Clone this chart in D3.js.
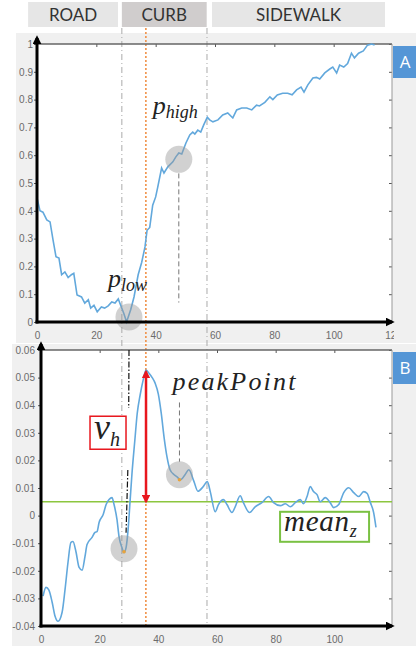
<!DOCTYPE html>
<html>
<head>
<meta charset="utf-8">
<script src="https://cdn.jsdelivr.net/npm/d3@7/dist/d3.min.js"></script>
<style>
  body { margin: 0; background: #fff; }
  svg { display: block; }
  .tick text { font-family: "Liberation Sans", Arial, sans-serif; font-size: 10px; fill: #6b6b6b; }
  .tick line { stroke: #555; }
  .math { font-family: "Liberation Serif", "DejaVu Serif", serif; font-style: italic; fill: #222; }
</style>
</head>
<body>
<svg id="chart" width="416" height="648"></svg>
<script>
// panel A: [distance, normalised height]
const profileA = [
  [0, 0.446], [1, 0.40], [2, 0.395], [3.3, 0.367], [4.4, 0.36], [5.4, 0.295], [6.4, 0.235],
  [7.4, 0.23], [8.3, 0.17], [9.4, 0.18], [10.5, 0.16], [11.6, 0.17], [12.4, 0.175], [13.5, 0.097],
  [15, 0.09], [16.1, 0.068], [17.3, 0.08], [18.1, 0.05], [19.2, 0.06], [20.3, 0.037], [21.7, 0.054],
  [22.8, 0.05], [24, 0.058], [25.2, 0.072], [26.3, 0.068], [27.4, 0.083], [28.2, 0.06], [29.3, 0.03],
  [30.2, 0.0], [31.6, 0.045], [32.7, 0.09], [34.1, 0.17], [35.3, 0.215], [36.4, 0.27], [37.1, 0.33],
  [38, 0.34], [39, 0.42], [40, 0.45], [40.7, 0.485], [42, 0.554], [42.8, 0.536], [44.1, 0.558],
  [45.8, 0.576], [46.8, 0.594], [47.8, 0.608], [48.8, 0.604], [50.2, 0.644], [51.5, 0.673],
  [52.5, 0.683], [53.2, 0.676], [54.2, 0.69], [55.2, 0.683], [56.2, 0.709], [57.4, 0.737],
  [58.2, 0.727], [59.3, 0.72], [61, 0.727], [62.6, 0.745], [64.3, 0.752], [66, 0.734], [67.3, 0.763],
  [69, 0.77], [70.7, 0.77], [72.4, 0.763], [74, 0.78], [75, 0.777], [76.8, 0.79], [78.5, 0.81],
  [79.5, 0.80], [81, 0.817], [82.8, 0.823], [84.5, 0.823], [86, 0.817], [87.5, 0.835], [89, 0.845],
  [90, 0.827], [91.3, 0.853], [93, 0.878], [94.2, 0.88], [95.3, 0.874], [97, 0.896], [98.7, 0.91],
  [99.7, 0.917], [101, 0.896], [102, 0.924], [103.4, 0.917], [104.7, 0.93], [106, 0.967],
  [107, 0.95], [108.4, 0.967], [110, 0.975], [111.4, 0.996], [112.8, 1.0], [113.8, 0.996]
];

// panel B: [distance, z]
const profileB = [
  [0.7, -0.0292], [1.7, -0.026], [2.7, -0.027], [3.8, -0.0314], [4.8, -0.0365], [5.8, -0.0383],
  [7.2, -0.035], [8.2, -0.0267], [9.2, -0.017], [10.2, -0.0097], [10.9, -0.0094], [11.9, -0.013],
  [13, -0.0188], [14, -0.0198], [15, -0.0148], [15.7, -0.0105], [17.4, -0.0079], [18.4, -0.0061],
  [19.1, -0.0058], [19.8, -0.0025], [21.2, 0.0004], [22.2, 0.004], [23.2, 0.0058], [24.2, 0.0065],
  [24.9, 0.004], [25.9, -0.0014], [26.6, -0.0076], [27.6, -0.0116], [28.3, -0.0134], [29, -0.0116],
  [29.7, -0.005], [30.4, 0.0058], [31, 0.015], [32, 0.0274], [32.8, 0.037], [33.8, 0.0437],
  [34.8, 0.049], [35.8, 0.0527], [36.9, 0.0515], [37.9, 0.050], [38.9, 0.048], [40, 0.044],
  [41, 0.037], [42, 0.028], [43, 0.021], [44, 0.0166], [45.4, 0.0148], [46.4, 0.014], [47.6, 0.013],
  [49.1, 0.0148], [50.4, 0.0166], [52.1, 0.0125], [53.5, 0.0088], [55.3, 0.0105], [56.7, 0.0123],
  [57.7, 0.0087], [59.4, 0.0014], [60.5, 0.004], [62.2, 0.0058], [63.4, 0.004], [65.1, 0.0011],
  [66.2, 0.0032], [67.9, 0.0072], [69, 0.0047], [71.1, 0.0011], [73, 0.0032], [75.3, 0.0047],
  [77.6, 0.0069], [79.3, 0.0047], [81.6, 0.0036], [83.3, 0.0043], [85, 0.0032], [86.7, 0.0047],
  [88.4, 0.0058], [89.5, 0.0043], [90.7, 0.0069], [91.8, 0.0105], [92.9, 0.0087], [94.1, 0.0076],
  [95.2, 0.005], [96.9, 0.0065], [98.6, 0.0047], [99.8, 0.0029], [101.5, 0.004], [103.2, 0.0083],
  [104.9, 0.0101], [106.6, 0.0083], [108.3, 0.0069], [110, 0.0087], [111.2, 0.008], [112.3, 0.0047],
  [113.4, 0.0011], [114.2, -0.0043]
];

const zones = [
  { name: "ROAD", from: -3, to: 27.3, shade: "#e6e6e6" },
  { name: "CURB", from: 28.6, to: 57.2, shade: "#d0cdcd" },
  { name: "SIDEWALK", from: 59, to: 117.3, shade: "#e6e6e6" }
];
const zoneEdges = [28.6, 57.3];
const curbLine = 36.7;

const ticksXA = [0, 20, 40, 60, 80, 100, 120];
const ticksXB = [0, 20, 40, 60, 80, 100];
const ticksYA = [0, 0.1, 0.2, 0.3, 0.4, 0.5, 0.6, 0.7, 0.8, 0.9, 1];
const ticksYB = [-0.04, -0.03, -0.02, -0.01, 0, 0.01, 0.02, 0.03, 0.04, 0.05, 0.06];

const pLow = { x: 31, y: 0.018 };
const pHigh = { x: 47.8, y: 0.585 };
const valley = { x: 28.3, y: -0.012, dotY: -0.0131 };
const peakPoint = { x: 47.2, y: 0.0148, dotY: 0.013 };
const peak = { x: 35.8, y: 0.0522 };
const meanZ = 0.005;

const svg = d3.select("#chart");

const xA = d3.scaleLinear().domain([0, 120]).range([37, 393]);
const yA = d3.scaleLinear().domain([0, 1]).range([322, 44]);
const xB = d3.scaleLinear().domain([0, 120]).range([41, 393]);
const yB = d3.scaleLinear().domain([-0.04, 0.06]).range([626, 350]);

const defs = svg.append("defs");
defs.append("marker").attr("id", "arrowBlack")
    .attr("viewBox", "0 0 10 10").attr("refX", 7).attr("refY", 5)
    .attr("markerWidth", 3).attr("markerHeight", 3).attr("orient", "auto")
    .append("path").attr("d", "M0,0L10,5L0,10Z").attr("fill", "#000");
defs.append("marker").attr("id", "arrowRed")
    .attr("viewBox", "0 0 10 10").attr("refX", 8).attr("refY", 5)
    .attr("markerWidth", 3.4).attr("markerHeight", 3.4).attr("orient", "auto-start-reverse")
    .append("path").attr("d", "M0,0L10,5L0,10Z").attr("fill", "#e8171e");
defs.append("clipPath").attr("id", "clipA")
    .append("rect").attr("x", 0).attr("y", 0).attr("width", 394).attr("height", 648);

// header boxes
const header = svg.append("g");
header.selectAll("rect").data(zones).join("rect")
    .attr("x", d => xA(d.from)).attr("y", 2)
    .attr("width", d => xA(d.to) - xA(d.from)).attr("height", 25)
    .attr("fill", d => d.shade);
header.selectAll("text").data(zones).join("text")
    .attr("x", d => (xA(d.from) + xA(d.to)) / 2).attr("y", 20.5)
    .attr("text-anchor", "middle")
    .style("font-family", "Lato, 'Open Sans', sans-serif").style("font-size", "17px")
    .attr("fill", "#333")
    .text(d => d.name);

// panel backgrounds
svg.append("rect").attr("x", 16).attr("y", 33).attr("width", 400).attr("height", 310).attr("fill", "#f0f0f0");
svg.append("rect").attr("x", 12).attr("y", 344).attr("width", 404).attr("height", 302).attr("fill", "#f0f0f0");
svg.append("rect").attr("x", xA(0)).attr("y", yA(1)).attr("width", xA(120) - xA(0) - 1)
    .attr("height", yA(0) - yA(1)).attr("fill", "#fff");
svg.append("rect").attr("x", xB(0)).attr("y", yB(0.06)).attr("width", xB(120) - xB(0) - 1)
    .attr("height", yB(-0.04) - yB(0.06)).attr("fill", "#fff");

// panel labels
[{ t: "A", y: 46 }, { t: "B", y: 352 }].forEach(p => {
    svg.append("rect").attr("x", 393).attr("y", p.y).attr("width", 23).attr("height", 32).attr("fill", "#5596d6");
    svg.append("text").attr("x", 405).attr("y", p.y + 22).attr("text-anchor", "middle")
        .style("font-family", "'Open Sans', sans-serif").style("font-size", "17px")
        .attr("fill", "#fff").text(p.t);
});

// zone borders across both panels
svg.selectAll(".edge").data(zoneEdges).join("line")
    .attr("class", "edge")
    .attr("x1", d => xA(d)).attr("x2", d => xA(d))
    .attr("y1", 28).attr("y2", 626)
    .attr("stroke", "#aaa").attr("stroke-width", 1)
    .attr("stroke-dasharray", "6,3,1,3");
svg.append("line")
    .attr("x1", xA(curbLine)).attr("x2", xA(curbLine))
    .attr("y1", 28).attr("y2", 628)
    .attr("stroke", "#f08a3c").attr("stroke-width", 1.5)
    .attr("stroke-dasharray", "2,2");

// axes furniture
function frame(x, y, xTicks, yTicks, fmt, pad) {
    const left = x.range()[0], right = x.range()[1] - 1;
    const top = y.range()[1], bottom = y.range()[0];

    svg.append("g").attr("transform", `translate(0,${bottom})`)
        .call(d3.axisBottom(x).tickValues(xTicks).tickSize(-3).tickPadding(10))
        .call(g => g.select(".domain").remove())
        .attr("clip-path", "url(#clipA)");
    svg.append("g").attr("transform", `translate(0,${top})`)
        .call(d3.axisTop(x).tickValues(xTicks.filter(v => v < 120)).tickSize(-3).tickFormat(""))
        .call(g => g.select(".domain").remove());
    svg.append("g").attr("transform", `translate(${left},0)`)
        .call(d3.axisLeft(y).tickValues(yTicks).tickSize(3).tickPadding(pad).tickFormat(fmt))
        .call(g => g.select(".domain").remove());
    svg.append("g").attr("transform", `translate(${right},0)`)
        .call(d3.axisRight(y).tickValues(yTicks).tickSize(-3).tickFormat(""))
        .call(g => g.select(".domain").remove());

    svg.append("line").attr("x1", left).attr("x2", right).attr("y1", top).attr("y2", top)
        .attr("stroke", "#666").attr("stroke-width", 1.5);
    svg.append("line").attr("x1", right).attr("x2", right).attr("y1", top).attr("y2", bottom)
        .attr("stroke", "#999").attr("stroke-width", 1);
}
frame(xA, yA, ticksXA, ticksYA, d => String(d), 1);
frame(xB, yB, ticksXB, ticksYB, d => d === 0 ? "0" : d.toFixed(2), 3);

// the two curves
const lineA = d3.line().x(d => xA(d[0])).y(d => yA(d[1]));
const lineB = d3.line().x(d => xB(d[0])).y(d => yB(d[1])).curve(d3.curveMonotoneX);
svg.append("path").datum(profileA).attr("d", lineA)
    .attr("fill", "none").attr("stroke", "#62a8dc").attr("stroke-width", 1.6);

// mean line
svg.append("line").attr("x1", xB(0)).attr("x2", xB(120) - 1)
    .attr("y1", yB(meanZ)).attr("y2", yB(meanZ))
    .attr("stroke", "#8cc63f").attr("stroke-width", 1.5);

svg.append("path").datum(profileB).attr("d", lineB)
    .attr("fill", "none").attr("stroke", "#62a8dc").attr("stroke-width", 1.6);

// helper dashed guides
svg.append("line").attr("x1", xA(pHigh.x)).attr("x2", xA(pHigh.x))
    .attr("y1", yA(pHigh.y) + 14).attr("y2", yA(0.07))
    .attr("stroke", "#777").attr("stroke-width", 1).attr("stroke-dasharray", "5,3");
svg.append("line").attr("x1", xB(peakPoint.x)).attr("x2", xB(peakPoint.x))
    .attr("y1", yB(0.041)).attr("y2", yB(peakPoint.y) - 13)
    .attr("stroke", "#777").attr("stroke-width", 1).attr("stroke-dasharray", "5,3");
[[0.06, 0.039], [0.0165, -0.0062]].forEach((seg, i) => {
    svg.append("line")
        .attr("x1", xB(30.0 - i * 0.4)).attr("x2", xB(29.9 - i * 0.9))
        .attr("y1", yB(seg[0])).attr("y2", yB(seg[1]))
        .attr("stroke", "#111").attr("stroke-width", 1.2).attr("stroke-dasharray", "6,2,1.5,2");
});

// highlighted points
const marks = [
    { cx: xA(pLow.x), cy: yA(pLow.y) },
    { cx: xA(pHigh.x), cy: yA(pHigh.y) },
    { cx: xB(valley.x), cy: yB(valley.y) },
    { cx: xB(peakPoint.x), cy: yB(peakPoint.y) }
];
svg.selectAll(".hl").data(marks).join("circle")
    .attr("class", "hl")
    .attr("cx", d => d.cx).attr("cy", d => d.cy).attr("r", 13.5)
    .attr("fill", "#9a9a9a").attr("opacity", 0.45);
svg.selectAll(".dot").data([valley, peakPoint]).join("circle")
    .attr("class", "dot")
    .attr("cx", d => xB(d.x)).attr("cy", d => yB(d.dotY)).attr("r", 1.8)
    .attr("fill", "#e8a33c");

// vertical height arrow
svg.append("line")
    .attr("x1", xB(peak.x)).attr("x2", xB(peak.x))
    .attr("y1", yB(meanZ)).attr("y2", yB(peak.y))
    .attr("stroke", "#e8171e").attr("stroke-width", 2.5)
    .attr("marker-start", "url(#arrowRed)").attr("marker-end", "url(#arrowRed)");

// math labels
function mathLabel(x, y, main, sub, size, subSize, subDy, mainLen) {
    const t = svg.append("text").attr("class", "math").attr("x", x).attr("y", y);
    const m = t.append("tspan").style("font-size", size + "px").text(main);
    if (mainLen) m.attr("textLength", mainLen).attr("lengthAdjust", "spacing");
    t.append("tspan").style("font-size", subSize + "px").attr("dy", subDy).text(sub);
    return t;
}
mathLabel(xA(pHigh.x) - 26, yA(pHigh.y) - 45, "p", "high", 26, 18, 4);
mathLabel(xA(pLow.x) - 21, yA(pLow.y) - 30, "p", "low", 26, 18, 4);
svg.append("text").attr("class", "math")
    .attr("x", xB(peakPoint.x) - 7).attr("y", yB(peakPoint.y) - 85)
    .attr("textLength", 123).attr("lengthAdjust", "spacing")
    .style("font-size", "26px").text("peakPoint");

// v_h box
const vx = xB(peak.x) - 56, vy = yB(0.036);
svg.append("rect").attr("x", vx).attr("y", vy).attr("width", 36).attr("height", 33)
    .attr("fill", "#fff").attr("stroke", "#e8171e").attr("stroke-width", 1.5);
mathLabel(vx + 4, vy + 23, "v", "h", 36, 20, 7);

// mean_z box
const mx = xB(81.5), my = yB(meanZ) + 10;
svg.append("rect").attr("x", mx).attr("y", my).attr("width", 89).attr("height", 30)
    .attr("fill", "#fff").attr("stroke", "#7ac143").attr("stroke-width", 2);
mathLabel(mx + 4, my + 19, "mean", "z", 29, 18, 6, 65);

// thick arrowed axes
[[xA, yA, 0, 1], [xB, yB, -0.04, 0.06]].forEach(([x, y, y0, y1]) => {
    svg.append("line").attr("x1", x(0)).attr("x2", x(0))
        .attr("y1", y(y0) + 1.5).attr("y2", y(y1) - 6)
        .attr("stroke", "#000").attr("stroke-width", 3).attr("marker-end", "url(#arrowBlack)");
    svg.append("line").attr("x1", x(0) - 1.5).attr("x2", x(120) - 1)
        .attr("y1", y(y0)).attr("y2", y(y0))
        .attr("stroke", "#000").attr("stroke-width", 3).attr("marker-end", "url(#arrowBlack)");
});
</script>
</body>
</html>
